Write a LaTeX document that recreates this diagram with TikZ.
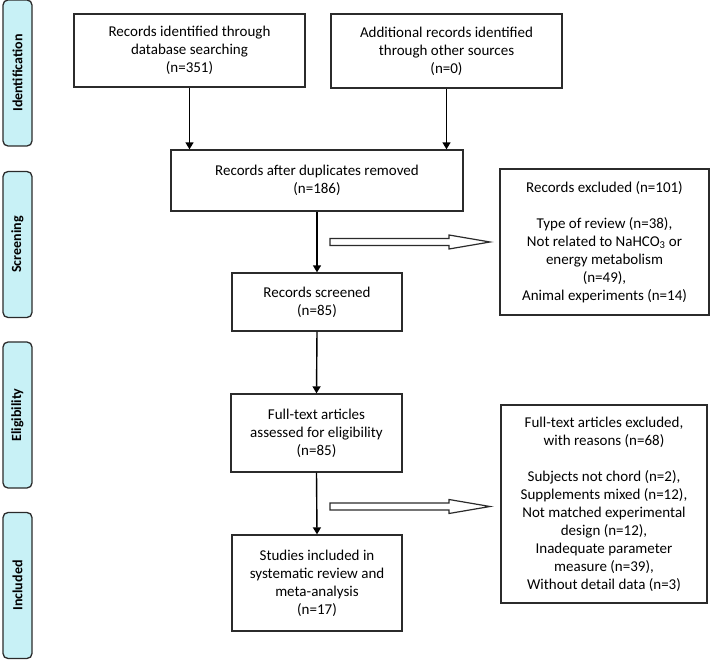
\documentclass[tikz,border=0pt]{standalone}
\usepackage{fontspec}
\setmainfont{Carlito}
\usetikzlibrary{arrows.meta}
\definecolor{sidefill}{HTML}{C8F1F6}
\definecolor{linecol}{HTML}{2B2B2B}
\begin{document}
\begin{tikzpicture}[x=1pt,y=-1pt,
  box/.style={draw=linecol,line width=1.3pt,fill=white,align=center,inner sep=0pt,
    font=\fontsize{15}{18}\selectfont,text=black},
  side/.style={draw=linecol,line width=1.3pt,fill=sidefill,rounded corners=5pt,rotate=90,
    minimum width=146pt,minimum height=29pt,inner sep=0pt,font=\bfseries\fontsize{14}{16}\selectfont},
  flow/.style={draw=black,line width=1.4pt,-{Triangle[length=7pt,width=8pt]}},
  hollow/.style={draw=linecol,line width=1.2pt,fill=white,line join=miter}
]
\useasboundingbox (0,0) rectangle (710,660);

% phase labels
\node[side] (sid) at (17.5,73) {Identification};
\node[side] (sscr) at (17.5,244.5) {Screening};
\node[side] (selig) at (17.5,415) {Eligibility};
\node[side] (sinc) at (17.5,585.5) {Included};

% boxes
\node[box,minimum width=231pt,minimum height=73pt] (b1) at (189.5,50.5)
  {Records identified through\\database searching\\(n=351)};
\node[box,minimum width=231pt,minimum height=74pt] (b2) at (446.5,51)
  {Additional records identified\\through other sources\\(n=0)};
\node[box,minimum width=292pt,minimum height=61pt] (b3) at (317,180.5)
  {Records after duplicates removed\\(n=186)};
\node[box,minimum width=170pt,minimum height=58pt] (b4) at (317,302)
  {Records screened\\(n=85)};
\node[box,minimum width=171pt,minimum height=78pt] (b5) at (316.5,433)
  {Full-text articles\\assessed for eligibility\\(n=85)};
\node[box,minimum width=170pt,minimum height=96pt] (b6) at (317,583)
  {Studies included in\\systematic review and\\meta-analysis\\(n=17)};
\node[box,minimum width=209pt,minimum height=146pt] (ex1) at (604.5,242)
  {Records excluded (n=101)\\[18pt]Type of review (n=38),\\Not related to NaHCO\textsubscript{3} or\\energy metabolism\\(n=49),\\Animal experiments (n=14)};
\node[box,minimum width=206pt,minimum height=198pt] (ex2) at (604,504)
  {Full-text articles excluded,\\with reasons (n=68)\\[18pt]Subjects not chord (n=2),\\Supplements mixed (n=12),\\Not matched experimental\\design (n=12),\\Inadequate parameter\\measure (n=39),\\Without detail data (n=3)};

% vertical arrows
\draw[flow] (b1.south) -- (b1.south |- b3.north);
\draw[flow] (b2.south) -- (b2.south |- b3.north);
\draw[flow] (b3.south) -- (b4.north);
\draw[flow] (b4.south) -- (b5.north);
\draw[flow] (b5.south) -- (b6.north);

% hollow arrows
\coordinate (h1s) at (330,242);
\coordinate (h1e) at (490,242);
\coordinate (h2s) at (330,506.5);
\coordinate (h2e) at (490,506.5);
\draw[hollow] (h1s) ++(0,-3.5) -- ++(119,0) -- ++(0,-3.5) -- (h1e) -- ++(-41,7) -- ++(0,-3.5) -- ++(-119,0) -- cycle;
\draw[hollow] (h2s) ++(0,-3.5) -- ++(119,0) -- ++(0,-3.5) -- (h2e) -- ++(-41,7) -- ++(0,-3.5) -- ++(-119,0) -- cycle;
\end{tikzpicture}
\end{document}
